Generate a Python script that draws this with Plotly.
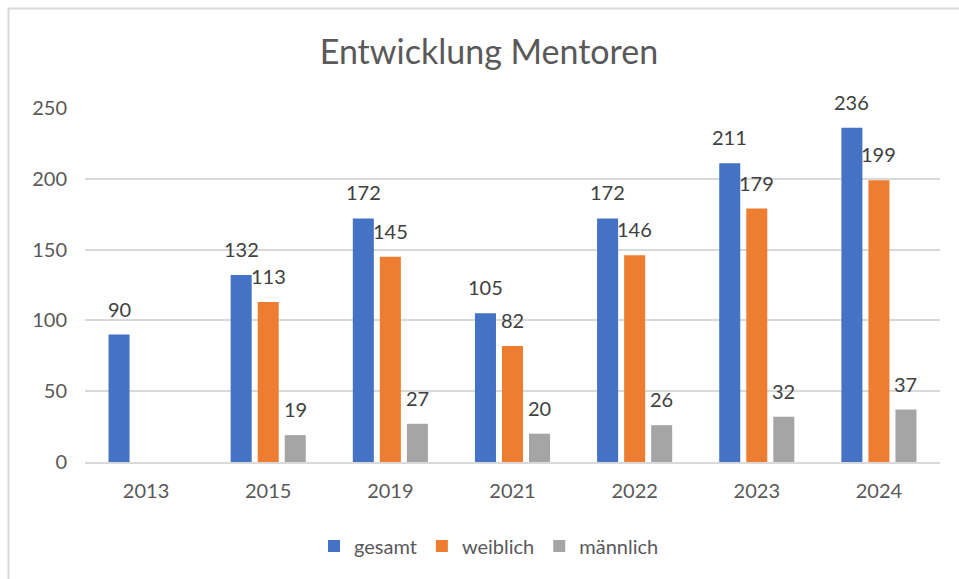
import plotly.graph_objects as go

years = ["2013", "2015", "2019", "2021", "2022", "2023", "2024"]
gesamt = [90, 132, 172, 105, 172, 211, 236]
weiblich = [None, 113, 145, 82, 146, 179, 199]
maennlich = [None, 19, 27, 20, 26, 32, 37]

series = [
    ("gesamt", gesamt, "#4472C4"),
    ("weiblich", weiblich, "#ED7D31"),
    ("männlich", maennlich, "#A5A5A5"),
]
y_ticks = [0, 50, 100, 150, 200, 250]

FONT = "Lato"
TXT = "#595959"

fig = go.Figure()
for name, vals, col in series:
    fig.add_trace(go.Bar(name=name, x=years, y=vals, marker_color=col,
                         marker_line_width=0))

shifts = [-27, 0, 27]
for (name, vals, col), dx in zip(series, shifts):
    for i, v in enumerate(vals):
        if v is None:
            continue
        fig.add_annotation(x=i, y=v, xref="x", yref="y", text=str(v),
                           showarrow=False, xshift=dx, yshift=26,
                           yanchor="middle", xanchor="center",
                           font=dict(family=FONT, size=20, color="#404040"))

fig.update_layout(
    width=959, height=579,
    margin=dict(l=85, r=19, t=108, b=117),
    paper_bgcolor="white", plot_bgcolor="white",
    barmode="group", bargap=0.336, bargroupgap=0.222,
    font=dict(family=FONT, color=TXT, size=20),
    title=dict(text="Entwicklung Mentoren", x=0.4725, xref="paper",
               y=1 - 52 / 579, yref="container", xanchor="center", yanchor="middle",
               font=dict(family=FONT, size=34, color=TXT)),
    showlegend=True,
    legend=dict(orientation="h", x=0.4725, xanchor="center", y=-0.237, yanchor="middle",
                font=dict(family=FONT, size=20, color=TXT), itemwidth=30,
                traceorder="normal"),
    xaxis=dict(type="category", range=[-0.5, len(years) - 0.5], showgrid=False,
               showline=True, linecolor="#D9D9D9", linewidth=2, ticks="",
               ticklabelstandoff=10,
               tickfont=dict(family=FONT, size=20, color=TXT)),
    yaxis=dict(range=[0, 250], tickvals=y_ticks, showgrid=True, gridcolor="#D9D9D9",
               gridwidth=1.5, zeroline=False, showline=False, ticks="",
               ticklabelstandoff=17,
               tickfont=dict(family=FONT, size=20, color=TXT)),
)

# chart-area border (only top and left edges visible in the frame)
fig.add_shape(type="rect", xref="paper", yref="paper",
              x0=(8.5 - 85) / 855, x1=2.0, y0=-1.5, y1=(462 - 8.5) / 354,
              line=dict(color="#D9D9D9", width=2), fillcolor="rgba(0,0,0,0)",
              layer="below")

fig.write_html("out.html", config={"displayModeBar": False},
               post_script="document.body.style.margin='0';document.body.style.overflow='hidden';")
